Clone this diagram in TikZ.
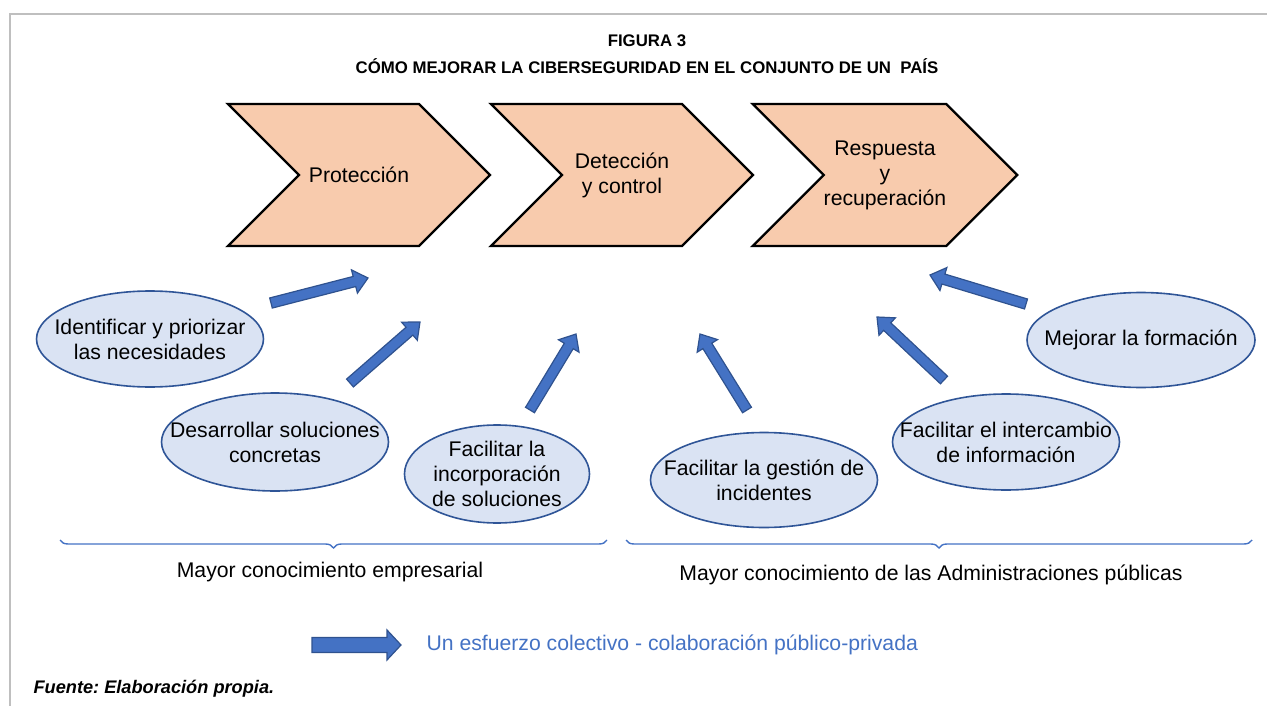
\documentclass[tikz,border=0pt]{standalone}
\usepackage{fontspec}
\setmainfont{Liberation Sans}
\usetikzlibrary{shapes.geometric,shapes.symbols,calc,decorations.pathreplacing}

\definecolor{chevfill}{HTML}{F8CBAD}
\definecolor{ovalfill}{HTML}{DAE3F3}
\definecolor{ovalline}{HTML}{2F5597}
\definecolor{arrfill}{HTML}{4472C4}
\definecolor{arrline}{HTML}{2F528F}
\definecolor{framegray}{HTML}{BFBFBF}

% block arrow: tail, tip, half shaft, half head, head length
\newcommand\blockarr[5]{%
  \coordinate (hb) at ($(#2)!#5!(#1)$);
  \filldraw[fill=arrfill,draw=arrline,line width=1.2pt]
    ($(#1)!#3!90:(#2)$) -- ($(hb)!#3!90:(#2)$) -- ($(hb)!#4!90:(#2)$) -- (#2)
    -- ($(hb)!#4!-90:(#2)$) -- ($(hb)!#3!-90:(#2)$) -- ($(#1)!#3!-90:(#2)$) -- cycle;
}

\begin{document}
\begin{tikzpicture}[x=1pt,y=-1pt,%
    every node/.style={font=\fontsize{21.2}{25}\selectfont},
    chev/.style={signal, signal from=west, signal to=east, signal pointer angle=90,
      draw=black, fill=chevfill, line width=2.4pt, align=center, inner sep=0pt,
      minimum width=262pt, minimum height=142pt},
    oval/.style={ellipse, draw=ovalline, fill=ovalfill, line width=1.6pt,
      align=center, inner xsep=-40pt, inner ysep=-12pt,
      minimum width=227pt, minimum height=96pt},
    brace/.style={draw=arrfill, line width=1.4pt,
      decorate, decoration={brace, mirror, amplitude=8pt}}]
  \useasboundingbox (0,0) rectangle (1267,706);
  \draw[framegray, line width=1.2pt] (10,706) -- (10,14) -- (1267,14);

  % title
  \node[font=\fontsize{16.8}{20}\bfseries] (fig) at (647,41) {FIGURA 3};
  \node[font=\fontsize{16.8}{20}\bfseries] (tit) at (647,66)
    {CÓMO MEJORAR LA CIBERSEGURIDAD EN EL CONJUNTO DE UN~ PAÍS};

  % stages
  \node[chev] (prot) at (359,175) {Protección};
  \node[chev] (detc) at (622,175) {Detección\\y control};
  \node[chev] (resp) at (885,175) {Respuesta\\y\\recuperación};

  % measures
  \node[oval] (iden) at (150,339) {Identificar y priorizar\\las necesidades};
  \node[oval, minimum height=98pt] (desa) at (275,442) {Desarrollar soluciones\\concretas};
  \node[oval, minimum width=185pt, minimum height=98pt] (inco) at (497,474)
    {Facilitar la\\incorporación\\de soluciones};
  \node[oval, minimum height=95pt] (gest) at (764,480) {Facilitar la gestión de\\incidentes};
  \node[oval] (inte) at (1006,442) {Facilitar el intercambio\\de información};
  \node[oval, minimum width=228pt, minimum height=95pt] (form) at (1141,340)
    {Mejorar la formación};

  % arrows
  \coordinate (iden-a) at (271,303);  \coordinate (iden-b) at (368,278);
  \coordinate (desa-a) at (350,383);  \coordinate (desa-b) at (420,322);
  \coordinate (inco-a) at (530,410);  \coordinate (inco-b) at (576,334);
  \coordinate (gest-a) at (747,410);  \coordinate (gest-b) at (700,334);
  \coordinate (inte-a) at (944,380);  \coordinate (inte-b) at (877,317);
  \coordinate (form-a) at (1026,304); \coordinate (form-b) at (930,275);
  \foreach \n in {iden,desa,inco,gest,inte,form}
    {\blockarr{\n-a}{\n-b}{5.2pt}{12pt}{14pt}}

  % groups
  \draw[brace] (60,540) -- (607,540);
  \draw[brace] (626,540) -- (1252,540);
  \node (empr) at (330,572) {Mayor conocimiento empresarial};
  \node (admi) at (931,575) {Mayor conocimiento de las Administraciones públicas};

  % legend
  \coordinate (leg-a) at (312,645); \coordinate (leg-b) at (401,645);
  \blockarr{leg-a}{leg-b}{7.5pt}{15pt}{14pt}
  \node[anchor=west, text=arrfill] (legt) at (423,645)
    {Un esfuerzo colectivo - colaboración público-privada};

  \node[anchor=west, font=\fontsize{18.2}{21}\bfseries\itshape] (fuen) at (30,689)
    {Fuente:\ Elaboración propia.};
\end{tikzpicture}
\end{document}
